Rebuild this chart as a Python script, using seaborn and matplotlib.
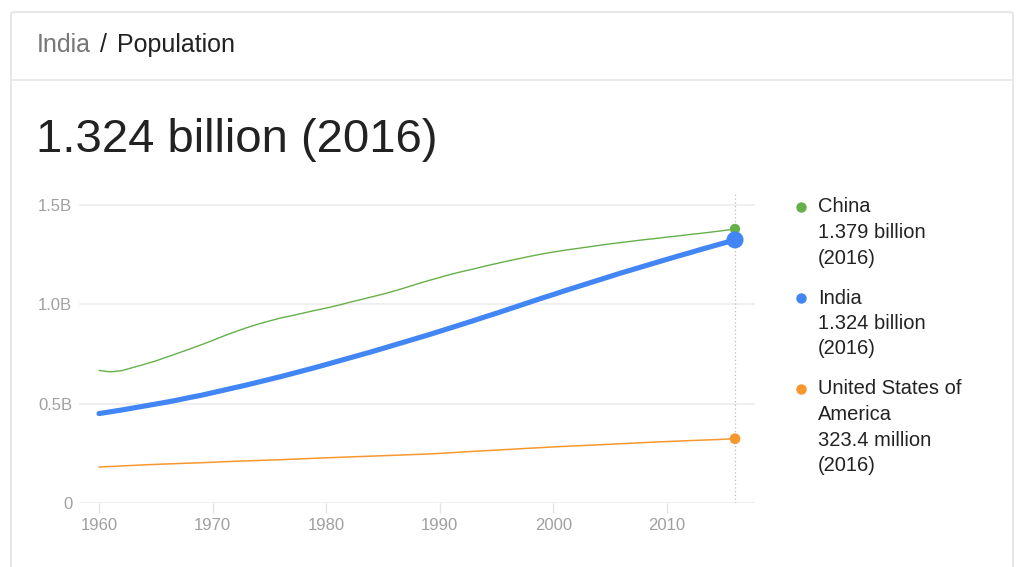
import pandas as pd
import matplotlib.pyplot as plt
import seaborn as sns
from matplotlib.patches import FancyBboxPatch
from matplotlib.lines import Line2D

# population in millions (World Bank style series)
years = list(range(1960, 2017))
china = [667, 660, 666, 682, 698, 715, 735, 755, 775, 796,
         818, 841, 862, 882, 900, 916, 931, 943, 956, 969,
         981, 994, 1009, 1023, 1037, 1051, 1067, 1084, 1102, 1119,
         1135, 1151, 1165, 1178, 1192, 1205, 1218, 1230, 1242, 1253,
         1263, 1272, 1280, 1288, 1296, 1304, 1311, 1318, 1325, 1331,
         1338, 1344, 1351, 1357, 1364, 1371, 1379]
india = [450, 459, 468, 478, 488, 498, 508, 519, 531, 542,
         555, 568, 581, 594, 608, 622, 636, 651, 666, 681,
         697, 713, 729, 745, 761, 778, 795, 812, 829, 846,
         864, 882, 900, 918, 937, 955, 974, 993, 1012, 1031,
         1049, 1068, 1086, 1104, 1122, 1140, 1158, 1175, 1192, 1209,
         1226, 1243, 1259, 1276, 1292, 1308, 1324]
usa = [180.7, 183.7, 186.5, 189.2, 191.9, 194.3, 196.6, 198.7, 200.7, 202.7,
       205.1, 207.7, 209.9, 211.9, 213.9, 216.0, 218.0, 220.2, 222.6, 225.1,
       227.2, 229.5, 231.7, 233.8, 235.8, 237.9, 240.1, 242.3, 244.5, 246.8,
       249.6, 253.0, 256.5, 259.9, 263.1, 266.3, 269.4, 272.7, 275.9, 279.0,
       282.2, 285.0, 287.6, 290.1, 292.8, 295.5, 298.4, 301.2, 304.1, 306.8,
       309.3, 311.6, 313.9, 316.1, 318.4, 320.7, 323.4]

countries = ['China', 'United States of America', 'India']
colors = {'China': '#66b04a', 'India': '#4285f4', 'United States of America': '#f7982f'}
widths = {'China': 1.0, 'India': 3.7, 'United States of America': 1.1}
dot_sizes = {'China': 55, 'India': 150, 'United States of America': 60}

legend_entries = [
    ('China', ['China', '1.379 billion', '(2016)']),
    ('India', ['India', '1.324 billion', '(2016)']),
    ('United States of America', ['United States of', 'America', '323.4 million', '(2016)']),
]

ytick_vals = [0, 0.5, 1.0, 1.5]
ytick_labels = ['0', '0.5B', '1.0B', '1.5B']
xtick_vals = [1960, 1970, 1980, 1990, 2000, 2010]

df = pd.concat([
    pd.DataFrame({'year': years, 'pop': [v / 1000 for v in china], 'country': 'China'}),
    pd.DataFrame({'year': years, 'pop': [v / 1000 for v in india], 'country': 'India'}),
    pd.DataFrame({'year': years, 'pop': [v / 1000 for v in usa], 'country': 'United States of America'}),
])

sns.set_theme(style='white')
plt.rcParams['font.family'] = ['Liberation Sans', 'DejaVu Sans']

W, H = 1024, 567
fig = plt.figure(figsize=(W / 100, H / 100), dpi=100)


def fx(px):
    return px / W


def fy(py):
    return 1 - py / H


# card frame
card = FancyBboxPatch((fx(11), -0.05), fx(1013) - fx(11), fy(12) + 0.05,
                      boxstyle='round,pad=0,rounding_size=0.004',
                      transform=fig.transFigure, facecolor='white',
                      edgecolor='#e3e3e3', lw=1.2, zorder=-2)
fig.patches.append(card)
fig.add_artist(Line2D([fx(11), fx(1013)], [fy(80), fy(80)], transform=fig.transFigure,
                      color='#e8e8e8', lw=1.2, zorder=-1))

# header
fig.text(fx(37), fy(45), 'India', fontsize=18, color='#777777', va='center')
fig.text(fx(100), fy(45), '/', fontsize=18, color='#222222', va='center')
fig.text(fx(117), fy(45), 'Population', fontsize=18, color='#222222', va='center')

fig.text(fx(36), fy(140), '1.324 billion (2016)', fontsize=34, color='#222222', va='center')

# plot area
ax = fig.add_axes([fx(79), 64 / H, (755 - 79) / W, (503 - 193) / H])
ax.set_zorder(2)
ax.set_facecolor('none')
for c in countries:
    sub = df[df['country'] == c]
    sns.lineplot(data=sub, x='year', y='pop', color=colors[c], lw=widths[c], ax=ax, zorder=3)
    last = sub[sub['year'] == 2016]
    sns.scatterplot(data=last, x='year', y='pop', color=colors[c], s=dot_sizes[c],
                    edgecolor='none', ax=ax, zorder=4)

ax.axvline(2016, color='#bdbdbd', lw=0.9, ls=(0, (1, 2)), zorder=2)
ax.set_xlim(1958.24, 2017.76)
ax.set_ylim(0, 1.56)
ax.set_yticks(ytick_vals)
ax.set_yticklabels(ytick_labels)
ax.set_xticks(xtick_vals)
ax.set_xticklabels([str(v) for v in xtick_vals])
ax.grid(axis='y', color='#ebebeb', lw=1.1, zorder=1)
ax.set_axisbelow(True)
for s in ax.spines.values():
    s.set_visible(False)
ax.tick_params(axis='y', length=0, pad=4.8, labelsize=12, labelcolor='#a0a0a0')
ax.tick_params(axis='x', bottom=True, length=7, width=1, color='#e3e3e3', pad=3.5,
               labelsize=12, labelcolor='#a0a0a0')
ax.set_xlabel('')
ax.set_ylabel('')

# side legend
legend_y = [207, 298, 389]
for (name, lines), y0 in zip(legend_entries, legend_y):
    fig.add_artist(Line2D([fx(801)], [fy(y0)], transform=fig.transFigure, marker='o',
                          ms=7.5, color=colors[name], mec='none', lw=0))
    for i, t in enumerate(lines):
        fig.text(fx(818), fy(y0 + 25.5 * i), t, fontsize=14.5, color='#222222', va='center')

fig.savefig('out.png', dpi=100, facecolor='white')
